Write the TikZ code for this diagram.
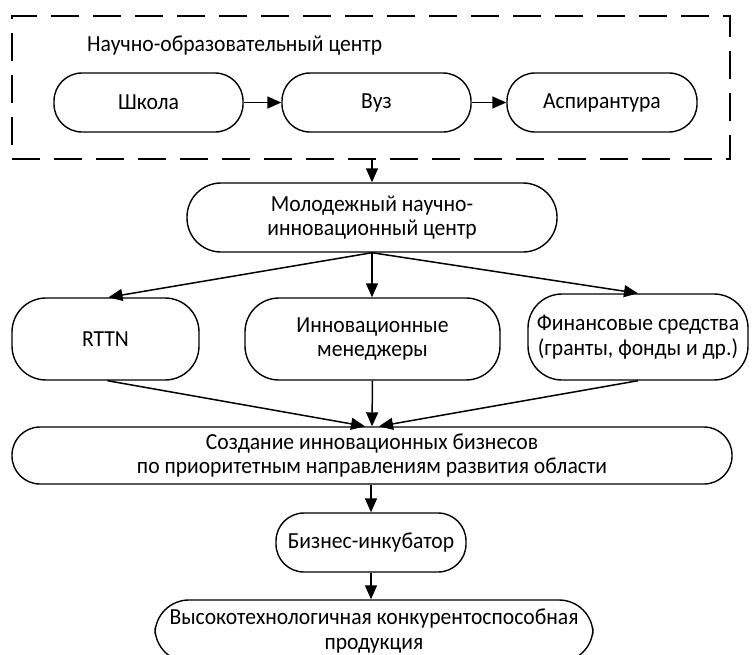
\documentclass[tikz,border=0pt]{standalone}
\usepackage{fontspec}
\setmainfont{Carlito}[FakeStretch=0.94]
\usetikzlibrary{arrows.meta}
\begin{document}
\begin{tikzpicture}[x=1pt,y=-1pt,
  txt/.style={font=\fontsize{23}{24.5}\selectfont},
  box/.style={txt,draw,line width=1.4pt,rounded corners=28pt,align=center,inner sep=0pt},
  tallbox/.style={box,rounded corners=34pt},
  arr/.style={line width=1.5pt,-{Triangle[length=14pt,width=12pt]}},
  dashbox/.style={draw,line width=1.5pt,dash pattern=on 28pt off 14pt,inner sep=0pt}]
\useasboundingbox (0,0) rectangle (753,654);
\node[dashbox,minimum width=718pt,minimum height=143pt] (nec) at (371,87.5) {};
\node[txt,anchor=west,inner sep=0pt] (title) at (87,46) {Научно-образовательный центр};
\node[box,minimum width=189pt,minimum height=59pt] (shk) at (148.5,102.5) {Школа};
\node[box,minimum width=189pt,minimum height=59pt] (vuz) at (376.5,102.5) {Вуз};
\node[box,minimum width=190pt,minimum height=59pt] (asp) at (602,102.5) {Аспирантура};
\node[tallbox,minimum width=370pt,minimum height=69pt] (mol) at (372,217.5) {Молодежный научно-\\инновационный центр};
\node[tallbox,minimum width=187pt,minimum height=82pt] (rttn) at (105.5,339) {RTTN};
\node[tallbox,minimum width=255pt,minimum height=82pt] (men) at (372.5,339) {Инновационные\\менеджеры};
\node[tallbox,minimum width=220pt,minimum height=86pt] (fin) at (638,337) {Финансовые средства\\(гранты, фонды и др.)};
\node[box,minimum width=720pt,minimum height=57pt] (soz) at (372,455.5) {Создание инновационных бизнесов\\по приоритетным направлениям развития области};
\node[box,minimum width=190pt,minimum height=59pt] (biz) at (371,542.5) {Бизнес-инкубатор};
\node[tallbox,minimum width=438pt,minimum height=62pt] (vys) at (374,631) {Высокотехнологичная конкурентоспособная\\продукция};
\draw[arr] (shk) -- (vuz);
\draw[arr] (vuz) -- (asp);
\draw[arr] (nec.south -| mol.north) -- (mol.north);
\draw[arr] (mol.south) -- ([xshift=3pt]rttn.north);
\draw[arr] (mol.south) -- (men.north -| mol.south);
\draw[arr] (mol.south) -- (fin.north);
\draw[arr] ([xshift=2pt]rttn.south) -- ([xshift=-7pt]soz.north);
\draw[arr] (men.south) -- (soz.north);
\draw[arr] (fin.south) -- ([xshift=7pt]soz.north);
\draw[arr] (soz.south -| biz.north) -- (biz.north);
\draw[arr] (biz.south) -- (vys.north -| biz.south);
\end{tikzpicture}
\end{document}
